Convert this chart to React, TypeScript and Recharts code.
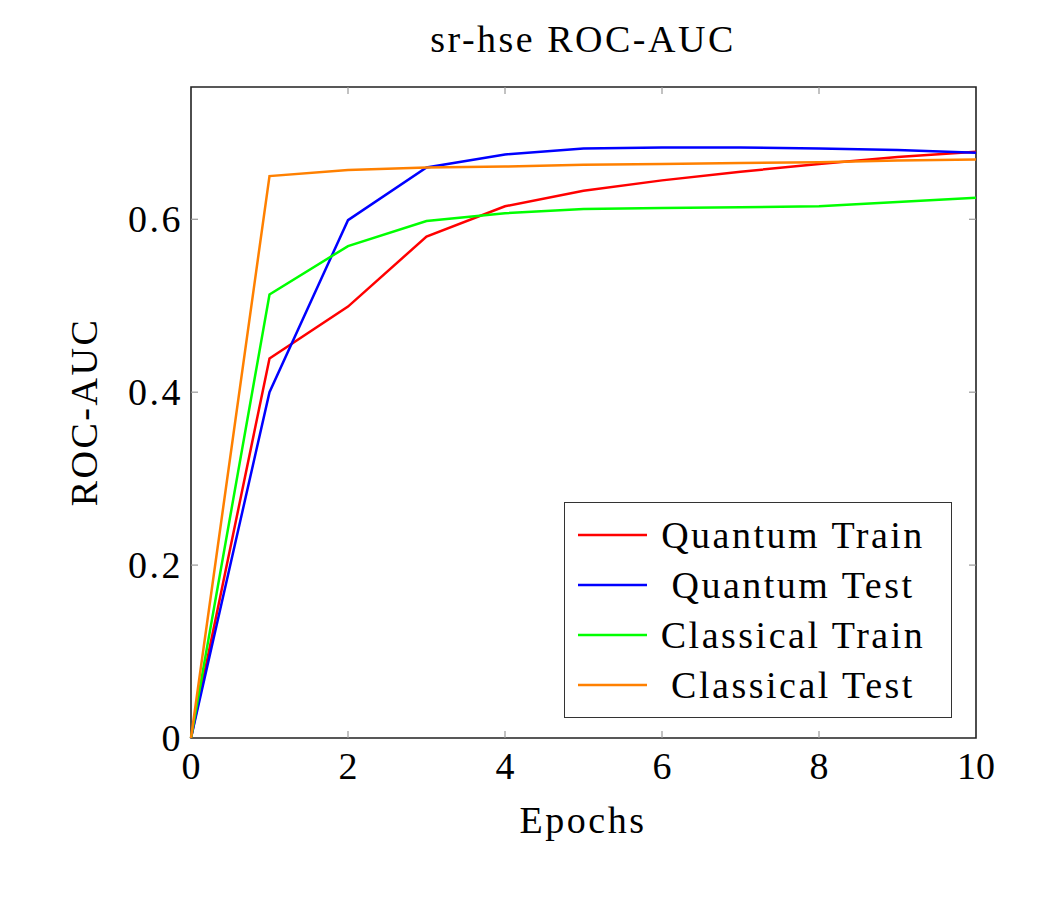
import React from 'react';
import { LineChart, Line, XAxis, YAxis, ReferenceArea } from 'recharts';

const epochs = [0, 1, 2, 3, 4, 5, 6, 7, 8, 9, 10];
const quantumTrain = [0, 0.439, 0.499, 0.58, 0.615, 0.633, 0.645, 0.655, 0.664, 0.672, 0.678];
const quantumTest = [0, 0.4, 0.599, 0.66, 0.675, 0.682, 0.683, 0.683, 0.682, 0.68, 0.677];
const classicalTrain = [0, 0.513, 0.569, 0.598, 0.607, 0.612, 0.613, 0.614, 0.615, 0.62, 0.625];
const classicalTest = [0, 0.65, 0.657, 0.66, 0.661, 0.663, 0.664, 0.665, 0.666, 0.668, 0.669];
const xTicks = [0, 2, 4, 6, 8, 10];
const yTicks = [0, 0.2, 0.4, 0.6];

const series = [
  { key: 'qTrain', name: 'Quantum Train', color: '#ff0000' },
  { key: 'qTest', name: 'Quantum Test', color: '#0000ff' },
  { key: 'cTrain', name: 'Classical Train', color: '#00ff00' },
  { key: 'cTest', name: 'Classical Test', color: '#ff8000' },
];

const FONT = '"Liberation Serif", "DejaVu Serif", serif';
const FS = 38;
const LS = 2.5;

// plot frame in page pixels
const LEFT = 191;
const RIGHT = 976;
const TOP = 87;
const BOTTOM = 738;

const data = epochs.map((e, i) => ({
  epoch: e,
  qTrain: quantumTrain[i],
  qTest: quantumTest[i],
  cTrain: classicalTrain[i],
  cTest: classicalTest[i],
}));

function XTick({ x, payload }: any) {
  const edge = payload.value === 0 || payload.value === 10;
  return (
    <g>
      {!edge && <line x1={x} x2={x} y1={BOTTOM} y2={BOTTOM - 7} stroke="#999" strokeWidth={1.2} />}
      {!edge && <line x1={x} x2={x} y1={TOP} y2={TOP + 7} stroke="#999" strokeWidth={1.2} />}
      <text x={x} y={779} textAnchor="middle" fontFamily={FONT} fontSize={FS} fill="#000">
        {payload.value}
      </text>
    </g>
  );
}

function YTick({ y, payload }: any) {
  const v = payload.value;
  const edge = v === 0;
  return (
    <g>
      {!edge && <line x1={LEFT} x2={LEFT + 7} y1={y} y2={y} stroke="#999" strokeWidth={1.2} />}
      {!edge && <line x1={RIGHT} x2={RIGHT - 7} y1={y} y2={y} stroke="#999" strokeWidth={1.2} />}
      <text x={183} y={y + 12.5} textAnchor="end" fontFamily={FONT} fontSize={FS} letterSpacing={LS} fill="#000">
        {v === 0 ? '0' : v.toFixed(1)}
      </text>
    </g>
  );
}

export default function App() {
  return (
    <div style={{ position: 'relative', width: 1063, height: 910, background: '#fff' }}>
      <style>{'body { margin: 0; }'}</style>
      <svg width={1063} height={70} style={{ position: 'absolute', left: 0, top: 0 }}>
        <text x={583} y={52} textAnchor="middle" fontFamily={FONT} fontSize={FS} letterSpacing={LS} fill="#000">
          sr-hse ROC-AUC
        </text>
      </svg>
      <LineChart
        width={1063}
        height={910}
        data={data}
        margin={{ top: TOP, right: 1063 - RIGHT, bottom: 910 - BOTTOM - 60, left: LEFT - 80 }}
      >
        <XAxis
          dataKey="epoch"
          type="number"
          domain={[0, 10]}
          ticks={xTicks}
          height={60}
          tick={<XTick />}
          tickLine={false}
          axisLine={false}
          label={{
            content: () => (
              <text x={583} y={833} textAnchor="middle" fontFamily={FONT} fontSize={FS} letterSpacing={LS} fill="#000">
                Epochs
              </text>
            ),
          }}
        />
        <YAxis
          type="number"
          domain={[0, 0.753]}
          ticks={yTicks}
          width={80}
          tick={<YTick />}
          tickLine={false}
          axisLine={false}
          label={{
            content: () => (
              <text
                x={97}
                y={412}
                transform="rotate(-90 97 412)"
                textAnchor="middle"
                fontFamily={FONT}
                fontSize={FS}
                letterSpacing={LS}
                fill="#000"
              >
                ROC-AUC
              </text>
            ),
          }}
        />
        <ReferenceArea x1={0} x2={10} y1={0} y2={0.753} fill="none" stroke="#222" strokeWidth={1.6} />
        {series.map((s) => (
          <Line
            key={s.key}
            dataKey={s.key}
            name={s.name}
            stroke={s.color}
            strokeWidth={2.5}
            dot={false}
            isAnimationActive={false}
          />
        ))}
      </LineChart>
      <div
        style={{
          position: 'absolute',
          left: 564,
          top: 502,
          width: 388,
          height: 216,
          boxSizing: 'border-box',
          border: '1.6px solid #333',
          background: '#fff',
          paddingTop: 7,
          fontFamily: FONT,
          fontSize: FS,
          letterSpacing: LS,
        }}
      >
        {series.map((s) => (
          <div key={s.key} style={{ display: 'flex', alignItems: 'center', height: 50 }}>
            <svg width={69} height={10} style={{ marginLeft: 13, flex: 'none' }}>
              <line x1={0} x2={69} y1={5} y2={5} stroke={s.color} strokeWidth={2.5} />
            </svg>
            <div style={{ flex: 1, textAlign: 'center', paddingRight: 12, lineHeight: '50px', whiteSpace: 'nowrap' }}>
              {s.name}
            </div>
          </div>
        ))}
      </div>
    </div>
  );
}
